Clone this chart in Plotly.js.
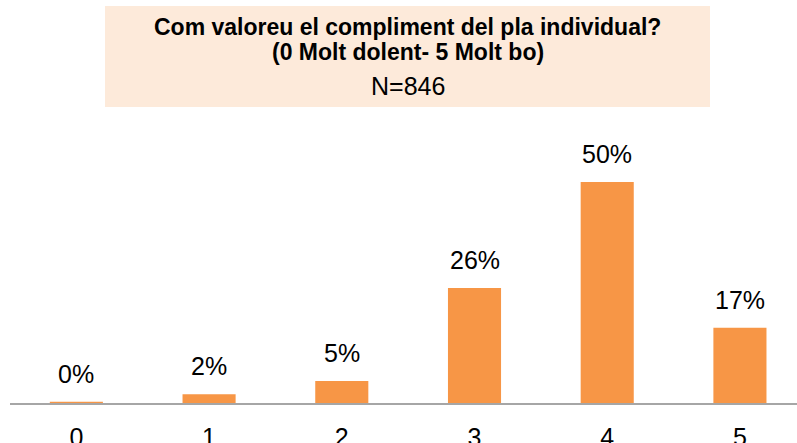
<!DOCTYPE html>
<html>
<head>
<meta charset="utf-8">
<script src="https://cdn.plot.ly/plotly-3.0.1.min.js"></script>
<style>html,body{margin:0;padding:0;background:#fff;}#chart{width:797px;height:443px;}</style>
</head>
<body>
<div id="chart"></div>
<script>
const categories = ['0', '1', '2', '3', '4', '5'];
const values = [0.3, 2, 5, 26, 50, 17];
const labels = ['0%', '2%', '5%', '26%', '50%', '17%'];
const titleLine1 = 'Com valoreu el compliment del pla individual?';
const titleLine2 = '(0 Molt dolent- 5 Molt bo)';
const titleLine3 = 'N=846';

const FONT = 'Liberation Sans, Arial, sans-serif';
const PLOT_TOP = 110, PLOT_BOTTOM = 403, PLOT_H = PLOT_BOTTOM - PLOT_TOP;
const py = p => (PLOT_BOTTOM - p) / PLOT_H;   // pixel y -> paper y
const L = 10, W = 797 - L;
const px = p => (p - L) / W;                   // pixel x -> paper x

const trace = {
  type: 'bar',
  x: categories,
  y: values,
  width: 0.4,
  marker: {color: '#F79646'},
  hoverinfo: 'none'
};

const dataLabels = categories.map((c, i) => ({
  x: c, y: values[i], xref: 'x', yref: 'y',
  text: labels[i], showarrow: false,
  xanchor: 'center', yanchor: 'bottom', yshift: 12,
  font: {family: FONT, size: 25, color: '#000'}
}));

const titleAnns = [
  {text: '<b>' + titleLine1 + '</b>', y: py(26.8), size: 23},
  {text: '<b>' + titleLine2 + '</b>', y: py(52.3), size: 23},
  {text: titleLine3, y: py(86.3), size: 25}
].map(a => ({
  xref: 'paper', yref: 'paper', x: px(407.5), y: a.y,
  xanchor: 'center', yanchor: 'middle', showarrow: false, borderpad: 0,
  text: a.text, font: {family: FONT, size: a.size, color: '#000'}
}));

const layout = {
  width: 797, height: 443,
  margin: {l: L, r: 0, t: PLOT_TOP, b: 443 - PLOT_BOTTOM},
  paper_bgcolor: '#fff', plot_bgcolor: '#fff',
  showlegend: false,
  xaxis: {
    type: 'category',
    range: [-0.5, 5.43],
    showline: true, linecolor: '#A6A6A6', linewidth: 2,
    showgrid: false, zeroline: false, ticks: '',
    ticklabelstandoff: 11,
    tickfont: {family: FONT, size: 25, color: '#000'}
  },
  yaxis: {
    range: [0, 66.3], visible: false, showgrid: false, zeroline: false
  },
  shapes: [{
    type: 'rect', xref: 'paper', yref: 'paper',
    x0: px(105), x1: px(710),
    y0: py(107), y1: py(6),
    fillcolor: '#FDEADA', line: {width: 0}, layer: 'below'
  }],
  annotations: titleAnns.concat(dataLabels)
};

Plotly.newPlot('chart', [trace], layout, {displayModeBar: false, staticPlot: true});
</script>
</body>
</html>
